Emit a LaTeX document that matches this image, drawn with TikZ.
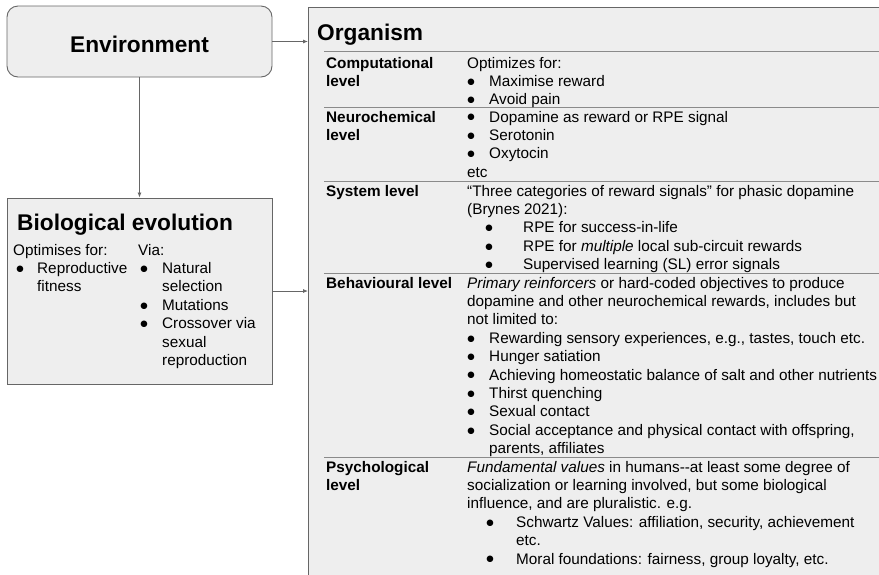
\documentclass[tikz,border=0pt]{standalone}
\usepackage{fontspec}
\setmainfont{Liberation Sans}
\newfontfamily\dejavu{DejaVu Sans}
\usetikzlibrary{arrows.meta}
\definecolor{boxfill}{HTML}{EEEEEE}
\definecolor{boxline}{HTML}{666666}
\definecolor{rowline}{HTML}{8A8A8A}
\newcommand\cellbox[1]{\vtop{\lineskiplimit=-\maxdimen\lineskip=0pt\baselineskip=18.4pt #1}}
\newcommand\tl[1]{\hbox{#1}}
\newcommand\dotmark{{\dejavu\fontsize{8.5pt}{9pt}\selectfont\raisebox{2.2pt}{●}}}
\newcommand\bi[3]{\hbox{\kern#1pt\hbox to 0pt{\hss\dotmark\hss}\kern\dimexpr#2pt-#1pt\relax #3}}
\newcommand\ind[2]{\hbox{\kern#1pt #2}}
\tikzset{
  txt/.style={anchor=base west, inner sep=0pt, font=\fontsize{15.3pt}{18.4pt}\selectfont},
  hd/.style={txt, font=\bfseries\fontsize{15.3pt}{18.4pt}\selectfont},
  title/.style={anchor=base west, inner sep=0pt, font=\bfseries\fontsize{22.7pt}{27pt}\selectfont},
  envbox/.style={draw=boxline, fill=boxfill, line width=0.9pt, rounded corners=11pt, inner sep=0pt, font=\bfseries\fontsize{22.7pt}{27pt}\selectfont},
  plainbox/.style={draw=boxline, fill=boxfill, line width=0.9pt, inner sep=0pt},
  arr/.style={draw=boxline, line width=0.8pt, -{Latex[length=5pt,width=4pt]}},
  rule/.style={draw=rowline, line width=0.9pt}
}
\begin{document}
\begin{tikzpicture}[x=1pt,y=-1pt]
\clip (0,0) rectangle (879,574);
\fill[white] (0,0) rectangle (879,574);
% boxes
\node[envbox, minimum width=265pt, minimum height=71pt, text depth=0pt] (env) at (139.5,41.5) {\raisebox{-6pt}{Environment}};
\node[plainbox, minimum width=265pt, minimum height=186pt] (bio) at (139.5,291) {};
\node[plainbox, anchor=north west, minimum width=620pt, minimum height=620pt] (org) at (308,7) {};
% connectors
\draw[arr] (env.south) -- (bio.north);
\draw[arr] (env.east) -- (env.east -| org.west);
\draw[arr] (bio.east) -- (bio.east -| org.west);
% organism table rules
\coordinate (r1) at (324,51);
\coordinate (r2) at (324,107);
\coordinate (r3) at (324,181);
\coordinate (r4) at (324,273);
\coordinate (r5) at (324,457);
\foreach \r in {r1,r2,r3,r4,r5} \draw[rule] (\r) -- (\r -| org.east);
% biological evolution texts
\node[title] (biot) at (17,230) {Biological evolution};
\node[txt] (bioa) at (13,255) {\cellbox{\tl{Optimises for:}\bi{7}{24}{Reproductive}\ind{24}{fitness}}};
\node[txt] (biob) at (138,255) {\cellbox{\tl{Via:}\bi{6}{24}{Natural}\ind{24}{selection}\bi{6}{24}{Mutations}\bi{6}{24}{Crossover via}\ind{24}{sexual}\ind{24}{reproduction}}};
% organism
\node[title] (orgt) at (317,40) {Organism};
\node[hd] (c1l) at (326,68) {\cellbox{\tl{Computational}\tl{level}}};
\node[txt] (c1r) at (467,68) {\cellbox{\tl{Optimizes for:}\bi{4}{22}{Maximise reward}\bi{4}{22}{Avoid pain}}};
\node[hd] (c2l) at (326,122) {\cellbox{\tl{Neurochemical}\tl{level}}};
\node[txt] (c2r) at (467,122) {\cellbox{\bi{4}{22}{Dopamine as reward or RPE signal}\bi{4}{22}{Serotonin}\bi{4}{22}{Oxytocin}\tl{etc}}};
\node[hd] (c3l) at (326,196) {\cellbox{\tl{System level}}};
\node[txt] (c3r) at (467,196) {\cellbox{\tl{“Three categories of reward signals” for phasic dopamine}\tl{(Brynes 2021):}\bi{22}{56}{RPE for success-in-life}\bi{22}{56}{RPE for \textit{multiple} local sub-circuit rewards}\bi{22}{56}{Supervised learning (SL) error signals}}};
\node[hd] (c4l) at (326,288) {\cellbox{\tl{Behavioural level}}};
\node[txt] (c4r) at (467,288) {\cellbox{\tl{\textit{Primary reinforcers} or hard-coded objectives to produce}\tl{dopamine and other neurochemical rewards, includes but}\tl{not limited to:}\bi{4}{22}{Rewarding sensory experiences, e.g., tastes, touch etc.}\bi{4}{22}{Hunger satiation}\bi{4}{22}{Achieving homeostatic balance of salt and other nutrients}\bi{4}{22}{Thirst quenching}\bi{4}{22}{Sexual contact}\bi{4}{22}{Social acceptance and physical contact with offspring,}\ind{22}{parents, affiliates}}};
\node[hd] (c5l) at (326,472) {\cellbox{\tl{Psychological}\tl{level}}};
\node[txt] (c5r) at (467,472) {\cellbox{\tl{\textit{Fundamental values} in humans-\kern0pt-at least some degree of}\tl{socialization or learning involved, but some biological}\tl{influence, and are pluralistic. e.g.}\bi{23}{49}{Schwartz Values: affiliation, security, achievement}\ind{49}{etc.}\bi{23}{49}{Moral foundations: fairness, group loyalty, etc.}}};
\end{tikzpicture}
\end{document}
